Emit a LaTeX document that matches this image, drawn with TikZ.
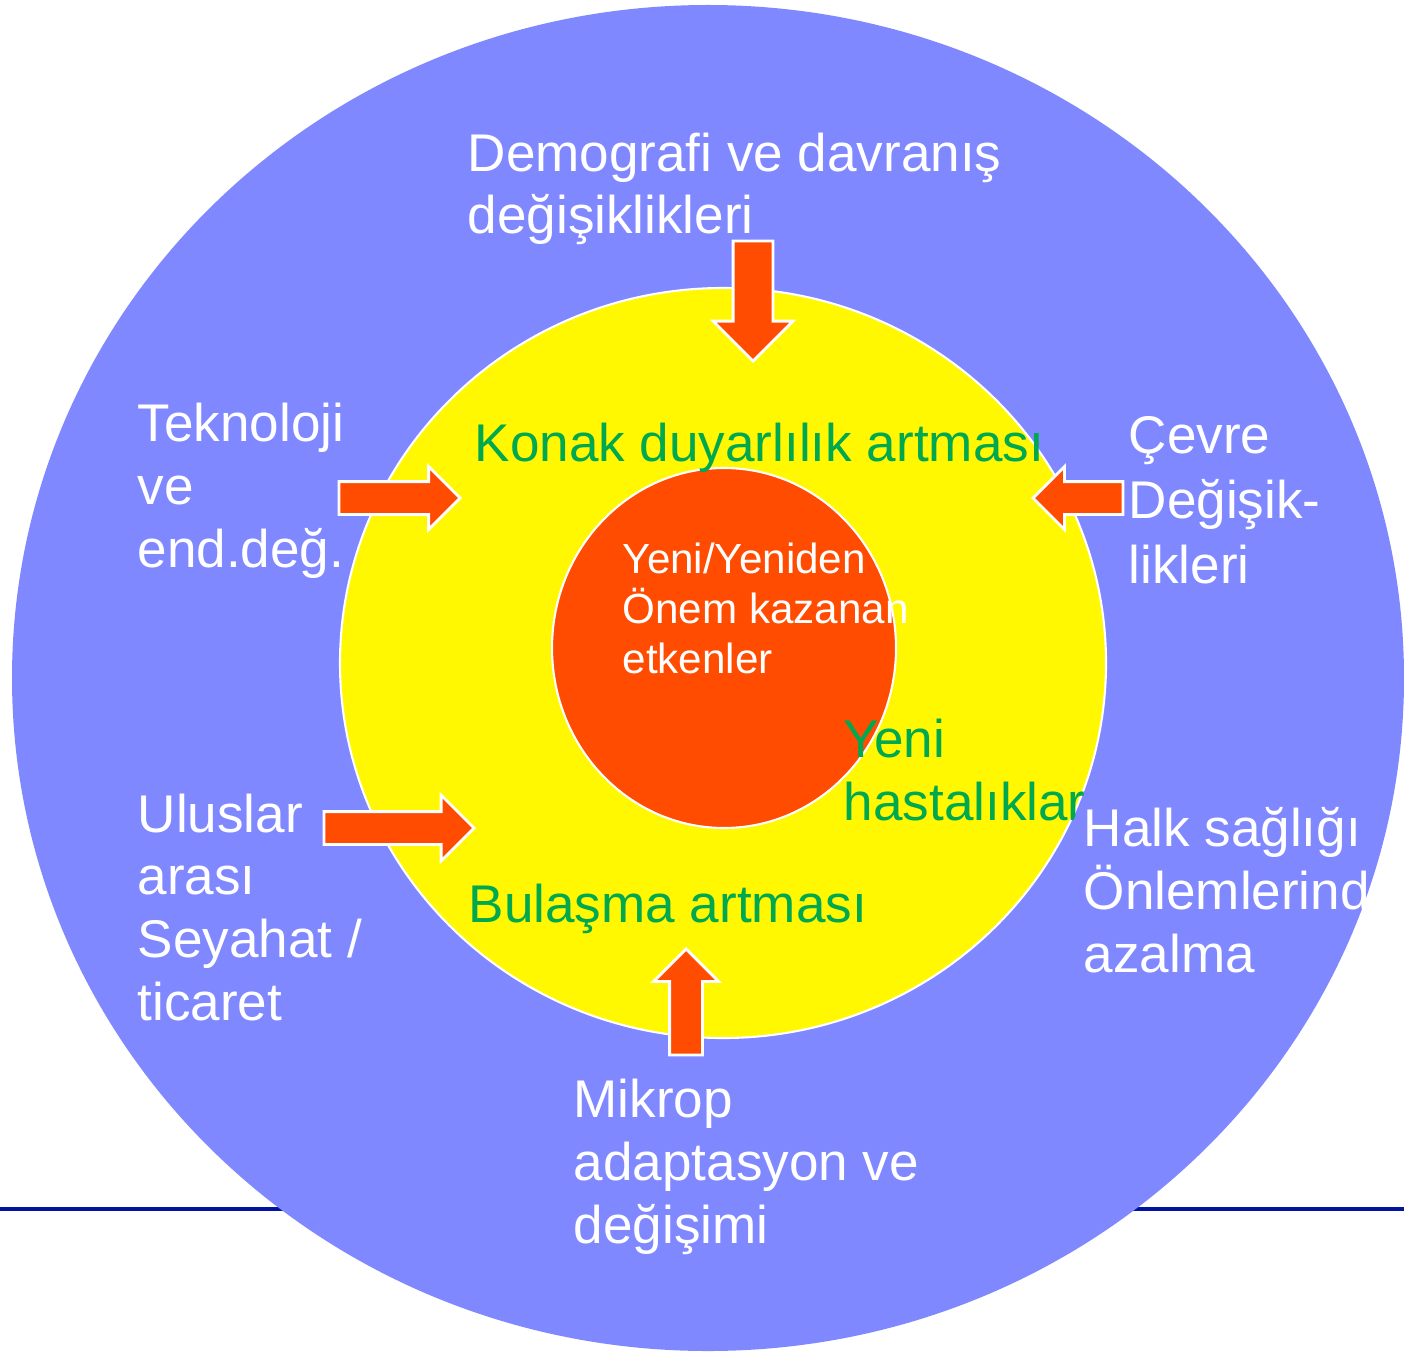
\documentclass[tikz,border=0pt]{standalone}
\usepackage{fontspec}
\setmainfont{Liberation Sans}
\usetikzlibrary{shapes.arrows}

\definecolor{outerblue}{RGB}{128,136,255}
\definecolor{hostyellow}{RGB}{255,248,0}
\definecolor{agentorange}{RGB}{255,76,0}
\definecolor{textgreen}{RGB}{0,168,80}
\definecolor{ruleblue}{RGB}{0,20,160}

\begin{document}
\begin{tikzpicture}[
      % block arrows pointing at the host circle, placed by their tip
      push/.style={single arrow, draw=white, line width=0.8pt, fill=agentorange,
                   single arrow head extend=0.15cm, inner sep=0.15cm,
                   minimum height=#1, anchor=tip},
      % multi-line texts sit on the baseline of their last line
      factor/.style={anchor=base west, align=left, text=white, inner sep=0pt,
                     font=\fontsize{15.1}{17.8}\selectfont},
      effect/.style={anchor=base west, align=left, text=textgreen, inner sep=0pt,
                     font=\fontsize{15.1}{17.8}\selectfont},
      agenttext/.style={anchor=base west, align=left, text=white, inner sep=0pt,
                     font=\fontsize{12.0}{14.2}\selectfont}
  ]
  \useasboundingbox (0,0) rectangle (14.04,13.53);

  %%%%%%%%%%%%%%%%%%%%%%%%%%%%%%%%%%%%%%%%%%%%%%%%%%%%%%%%
  % rule behind everything
  %%%%%%%%%%%%%%%%%%%%%%%%%%%%%%%%%%%%%%%%%%%%%%%%%%%%%%%%
  \coordinate (ruleW) at (0,1.44);
  \coordinate (ruleE) at (14.04,1.44);
  \draw[ruleblue, line width=0.9pt] (ruleW) -- (ruleE);

  %%%%%%%%%%%%%%%%%%%%%%%%%%%%%%%%%%%%%%%%%%%%%%%%%%%%%%%%
  % the three rings
  %%%%%%%%%%%%%%%%%%%%%%%%%%%%%%%%%%%%%%%%%%%%%%%%%%%%%%%%
  \fill[outerblue] (7.08,6.75) ellipse [x radius=6.96, y radius=6.73];
  \draw[white, line width=0.6pt, fill=hostyellow] (7.23,6.90) ellipse [x radius=3.83, y radius=3.75];
  \draw[white, line width=0.6pt, fill=agentorange] (7.24,7.05) ellipse [x radius=1.72, y radius=1.80];

  %%%%%%%%%%%%%%%%%%%%%%%%%%%%%%%%%%%%%%%%%%%%%%%%%%%%%%%%
  % arrows
  %%%%%%%%%%%%%%%%%%%%%%%%%%%%%%%%%%%%%%%%%%%%%%%%%%%%%%%%
  \node[push=1.20cm, shape border rotate=270, inner sep=0.185cm,
        single arrow head extend=0.2cm] (demoArrow) at (7.53,9.90) {};
  \node[push=1.21cm] (teknoArrow) at (4.62,8.55) {};
  \node[push=0.90cm, shape border rotate=180] (cevreArrow) at (10.31,8.55) {};
  \node[push=1.50cm, single arrow head extend=0.165cm] (ulusArrow) at (4.76,5.25) {};
  \node[push=1.06cm, shape border rotate=90, single arrow head extend=0.16cm] (mikropArrow) at (6.86,4.06) {};

  %%%%%%%%%%%%%%%%%%%%%%%%%%%%%%%%%%%%%%%%%%%%%%%%%%%%%%%%
  % factors in the outer ring (cut at its edge)
  %%%%%%%%%%%%%%%%%%%%%%%%%%%%%%%%%%%%%%%%%%%%%%%%%%%%%%%%
  \begin{scope}
    \clip (7.08,6.75) ellipse [x radius=6.96, y radius=6.73];
    \node[factor] (demo)   at (4.67,11.19) {Demografi ve davranış\\değişiklikleri};
    \node[factor] (tekno)  at (1.37,7.86)  {Teknoloji\\ve\\end.değ.};
    \node[factor, font=\fontsize{15.1}{18.4}\selectfont]
                  (cevre)  at (11.28,7.70) {Çevre\\Değişik-\\likleri};
    \node[factor] (ulus)   at (1.37,3.33)  {Uluslar\\arası\\Seyahat /\\ticaret};
    \node[factor] (mikrop) at (5.73,1.10)  {Mikrop\\adaptasyon ve\\değişimi};
    \node[factor] (halk)   at (10.83,3.81) {Halk sağlığı\\Önlemlerinde\\azalma};
  \end{scope}

  %%%%%%%%%%%%%%%%%%%%%%%%%%%%%%%%%%%%%%%%%%%%%%%%%%%%%%%%
  % effects in the host ring
  %%%%%%%%%%%%%%%%%%%%%%%%%%%%%%%%%%%%%%%%%%%%%%%%%%%%%%%%
  \node[effect] (konak)   at (4.74,8.92) {Konak duyarlılık artması};
  \node[effect] (bulasma) at (4.68,4.31) {Bulaşma artması};
  \begin{scope}
    \clip (7.23,6.90) ellipse [x radius=3.85, y radius=3.75];
    \node[effect] (hastalik) at (8.43,5.33) {Yeni\\hastalıklar};
  \end{scope}

  % agents in the middle
  \node[agenttext] (agent) at (6.22,6.80) {Yeni/Yeniden\\Önem kazanan\\etkenler};

\end{tikzpicture}
\end{document}
